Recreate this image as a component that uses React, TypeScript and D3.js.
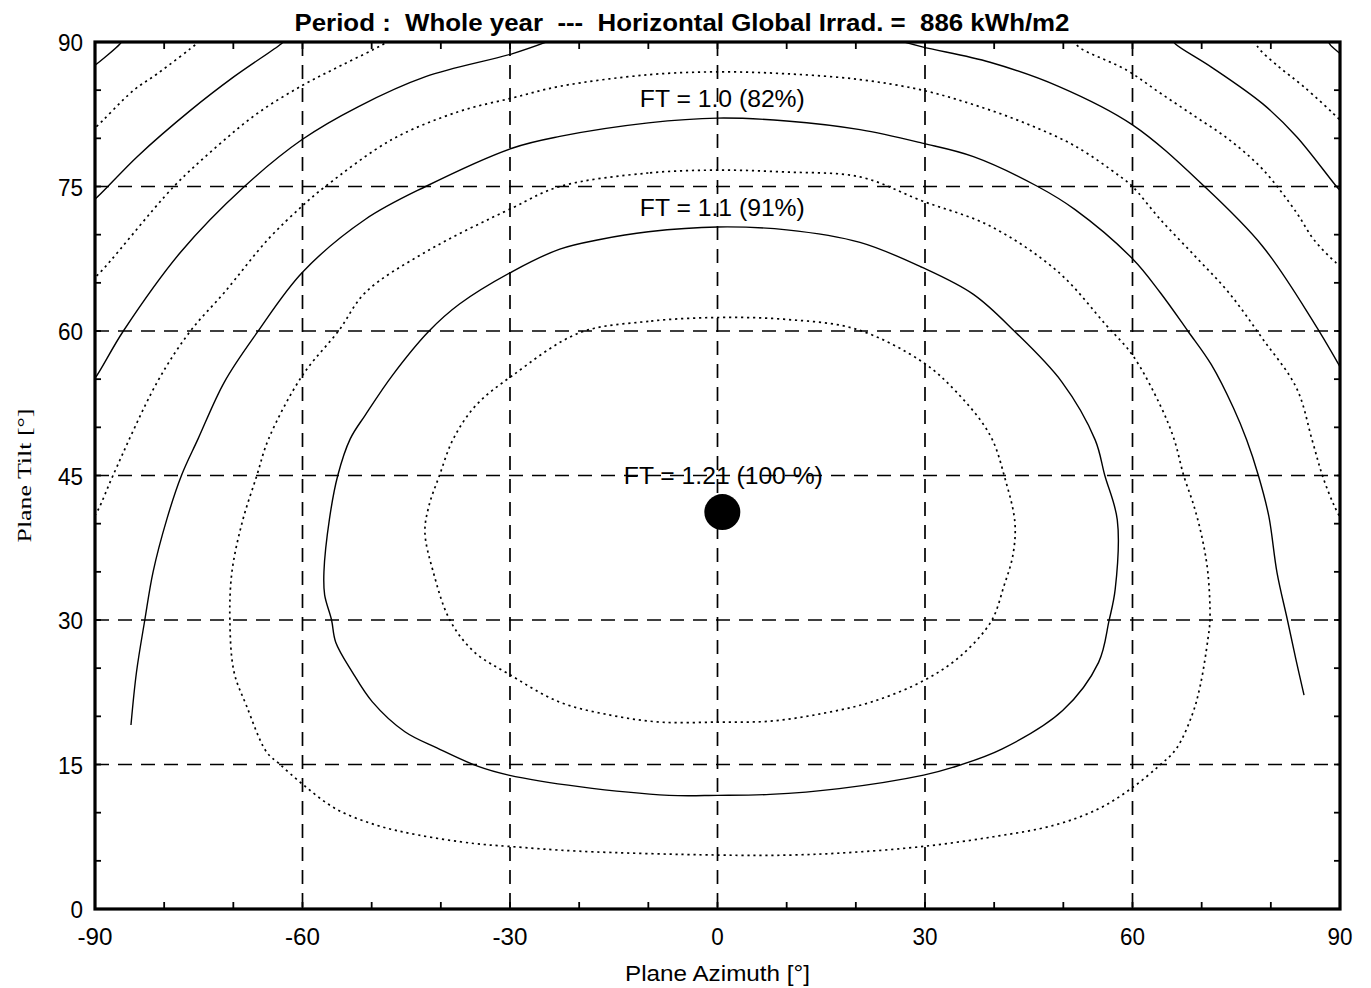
import React, { useEffect, useRef } from 'react';
import * as d3 from 'd3';

// axis ticks
const xTicks = [-90, -60, -30, 0, 30, 60, 90];
const yTicks = [0, 15, 30, 45, 60, 75, 90];
const xMinor = [-80, -70, -50, -40, -20, -10, 10, 20, 40, 50, 70, 80];
const yMinor = [5, 10, 20, 25, 35, 40, 50, 55, 65, 70, 80, 85];

const titleText = 'Period :  Whole year  ---  Horizontal Global Irrad. =  886 kWh/m2';
const xTitle = 'Plane Azimuth [°]';
const yTitle = 'Plane Tilt [°]';

// optimum orientation [azimuth, tilt]
const optimum = [0.7, 41.2];

// iso-transposition curves, [azimuth, tilt]
const c1 = [[0,61.4],[-10,61],[-20,59.8],[-29.6,55.4],[-34.9,52.3],[-38.2,48.8],[-40.2,45],[-41.7,41.9],[-42.3,39.1],[-41.1,35],[-38.7,30],[-35.2,26.7],[-30.2,24.4],[-22.9,21.5],[-15.3,20.1],[-8.2,19.4],[0,19.4],[7.6,19.5],[15.2,20.3],[22.3,21.5],[29.8,23.7],[35.2,26.3],[39.6,29.9],[41.4,33.5],[42.7,36.7],[43,40.1],[41.6,44.6],[39.4,49.2],[34.5,53.7],[29.6,56.8],[20,60.2],[10,61.2]];
const c2 = [[0,70.8],[-10,70.3],[-17,69.5],[-22.8,68.5],[-29.6,66.2],[-37.3,62.8],[-41.7,60],[-47,55.4],[-50.9,51.3],[-53.1,48.8],[-54.9,45],[-56.1,40.5],[-56.9,35],[-56.8,32.6],[-55.8,30],[-55.2,27.7],[-52.8,24.6],[-49.9,21.5],[-45.2,18.4],[-40.5,16.7],[-34.6,14.8],[-30.2,13.9],[-20,12.7],[-7,11.8],[0,11.8],[7.6,11.9],[17.6,12.5],[29.8,13.9],[34,14.7],[41.1,16.6],[49.9,20.6],[55.1,25.6],[56.6,29.9],[57.5,33.2],[57.8,40.4],[56,45],[54.6,48.7],[49.8,54.7],[42.9,60],[37,63.8],[29.6,66.6],[20.6,69.2],[10,70.5]];
const c3 = [[0,76.7],[-10,76.4],[-22.8,75],[-29.6,72.8],[-42.2,68.2],[-50.9,64],[-54.8,60],[-60,55.4],[-64.9,48.8],[-66.6,45],[-68.7,40.2],[-70.2,35],[-70.5,30],[-69.9,24.6],[-68.1,21.1],[-65.2,16.3],[-63.4,15.1],[-59.9,12.9],[-55.2,10.4],[-49.3,8.7],[-43.4,7.7],[-35.2,6.8],[-30.2,6.5],[-20,6],[0,5.6],[10.6,5.6],[19.9,5.9],[29.8,6.5],[39.9,7.5],[48.7,8.7],[55.1,10.4],[59.8,12.5],[63.9,14.9],[66.3,16.6],[68.6,20.1],[69.8,23.2],[70.9,28],[71.2,30],[70.9,34.9],[70.1,38.4],[68.9,41.8],[67.4,45],[66,48.8],[64,52.3],[60,57.5],[56.2,60.6],[49.3,66.1],[39.4,70.9],[29.6,73.5],[20.6,76],[10,76.5]];
const c4 = [[-84.8,19.1],[-84,24.6],[-82.8,30],[-81.6,35],[-79.6,40.5],[-77.5,45],[-75.1,48.8],[-71.3,54.7],[-66.5,59.9],[-60,66.1],[-50.9,71.6],[-42.2,75],[-29.6,79],[-22.8,80.2],[-10,81.6],[0,82.1],[10,81.8],[20.6,80.9],[29.6,79.5],[37,78.1],[46.3,75],[51.7,72.6],[60,67.5],[64,64],[68,60],[71.4,56.5],[74.6,52],[76.5,48.7],[78.2,45],[79.7,40.8],[80.9,34.9],[82.4,30],[83.6,26],[84.8,22.2]];
const c5 = [[-90.5,40.3],[-89.5,41.5],[-87.4,45],[-81,54.7],[-76.2,60],[-71.3,64],[-65,69.5],[-60,73],[-56.7,75],[-47,79.9],[-37.3,82.8],[-29.6,84.2],[-22.8,85.4],[-10,86.6],[0,86.9],[10,86.7],[20.6,86.1],[29.6,85],[37,83.5],[44.4,81.6],[51.7,79.2],[58.1,76.1],[60,75],[64,71.6],[69,67.8],[73.9,64],[78.8,59.2],[83.7,54.1],[86,48.6],[87.5,44.9],[89.2,41.8],[90.5,40]];
const c6a = [[-91,54.3],[-90,55.1],[-85.9,60],[-77.6,68.2],[-68.4,75],[-60,79.9],[-51.9,83.3],[-42.2,86.4],[-29.6,88.8],[-24,90.2]];
const c6b = [[26,90.2],[29.6,89.5],[39.4,87.9],[49.3,85.4],[60,81.4],[70.4,75],[78.8,68.8],[86.2,60.9],[90,56.3],[91,55]];
const c7a = [[-90.5,65.4],[-89.8,65.7],[-78.6,75],[-72.3,79.2],[-66.5,82.6],[-60,85.5],[-54.3,87.6],[-48.5,89.7],[-47.5,90.2]];
const c7b = [[51.5,90.2],[52.2,89.5],[59.1,87.1],[64,84.7],[69,82.3],[73.9,79.9],[78.8,76.8],[83.7,72.3],[86.2,69.5],[89.4,67.1],[90.5,66.5]];
const c8a = [[-90.5,73.5],[-90,73.7],[-83.9,78.1],[-76.2,82.9],[-69.9,86.4],[-63.1,89.8],[-62.5,90.2]];
const c8b = [[65.8,90.2],[66.2,89.8],[71.4,87.4],[78.8,83.6],[83.7,80.2],[89.5,75],[90.5,74.2]];
const c9a = [[-90.5,80.9],[-90,81.1],[-84.4,85],[-81,86.7],[-75.2,89.9],[-74.8,90.2]];
const c9b = [[77.8,90.2],[78.1,89.5],[81.2,87.4],[84.7,85.4],[90,81.9],[90.5,81.5]];
const c10a = [[-90.5,87.4],[-90,87.6],[-86.4,89.8],[-86,90.2]];
const c10b = [[88.2,90.2],[88.6,89.7],[90,88.8],[90.5,88.4]];

const contours = [
  { level: 1.15, dotted: true, closed: true, parts: [c1] },
  { level: 1.1, dotted: false, closed: true, parts: [c2] },
  { level: 1.05, dotted: true, closed: true, parts: [c3] },
  { level: 1.0, dotted: false, closed: false, parts: [c4] },
  { level: 0.95, dotted: true, closed: false, parts: [c5] },
  { level: 0.9, dotted: false, closed: false, parts: [c6a, c6b] },
  { level: 0.85, dotted: true, closed: false, parts: [c7a, c7b] },
  { level: 0.8, dotted: false, closed: false, parts: [c8a, c8b] },
  { level: 0.75, dotted: true, closed: false, parts: [c9a, c9b] },
  { level: 0.7, dotted: false, closed: false, parts: [c10a, c10b] },
];

const labelFT10 = 'FT = 1.0 (82%)';
const labelFT11 = 'FT = 1.1 (91%)';
const labelOpt = 'FT = 1.21 (100 %)';

const sans = 'Liberation Sans, Arial, Helvetica, sans-serif';

export default function App() {
  const ref = useRef(null);

  useEffect(() => {
    var width = 1371;
    var height = 988;
    var left = 95, right = 1340, top = 42, bottom = 909;

    var svg = d3.select(ref.current);
    svg.selectAll('*').remove();
    svg.attr('width', width).attr('height', height);

    var x = d3.scaleLinear().domain([-90, 90]).range([left, right]);
    var y = d3.scaleLinear().domain([0, 90]).range([bottom, top]);

    svg.append('defs').append('clipPath').attr('id', 'plotclip')
      .append('rect').attr('x', left).attr('y', top)
      .attr('width', right - left).attr('height', bottom - top);

    // dashed grid
    var grid = svg.append('g');
    grid.selectAll('.gx').data(xTicks.slice(1, -1)).enter().append('line')
      .attr('x1', d => x(d)).attr('x2', d => x(d))
      .attr('y1', top).attr('y2', bottom)
      .attr('stroke', '#000').attr('stroke-width', 1.7)
      .attr('stroke-dasharray', '14,9');
    grid.selectAll('.gy').data(yTicks.slice(1, -1)).enter().append('line')
      .attr('y1', d => y(d)).attr('y2', d => y(d))
      .attr('x1', left).attr('x2', right)
      .attr('stroke', '#000').attr('stroke-width', 1.7)
      .attr('stroke-dasharray', '14,9');

    // contour curves
    var plot = svg.append('g').attr('clip-path', 'url(#plotclip)');
    contours.forEach(c => {
      var line = d3.line()
        .x(d => x(d[0])).y(d => y(d[1]))
        .curve(c.closed ? d3.curveCatmullRomClosed.alpha(0.5) : d3.curveCatmullRom.alpha(0.5));
      c.parts.forEach(p => {
        plot.append('path')
          .attr('d', line(p))
          .attr('fill', 'none')
          .attr('stroke', '#000')
          .attr('stroke-width', c.dotted ? 1.7 : 1.4)
          .attr('stroke-dasharray', c.dotted ? '2.2,3.8' : null);
      });
    });

    // frame
    svg.append('rect')
      .attr('x', left).attr('y', top)
      .attr('width', right - left).attr('height', bottom - top)
      .attr('fill', 'none').attr('stroke', '#000').attr('stroke-width', 3.2);

    // inward ticks on all four sides
    var tk = svg.append('g').attr('stroke', '#000').attr('stroke-width', 1.8);
    var allX = xMinor.concat(xTicks.slice(1, -1));
    var allY = yMinor.concat(yTicks.slice(1, -1));
    allX.forEach(t => {
      tk.append('line').attr('x1', x(t)).attr('x2', x(t)).attr('y1', bottom).attr('y2', bottom - 7);
      tk.append('line').attr('x1', x(t)).attr('x2', x(t)).attr('y1', top).attr('y2', top + 7);
    });
    allY.forEach(t => {
      tk.append('line').attr('y1', y(t)).attr('y2', y(t)).attr('x1', left).attr('x2', left + 6);
      tk.append('line').attr('y1', y(t)).attr('y2', y(t)).attr('x1', right).attr('x2', right - 6);
    });

    var labW = t => String(Math.abs(t)).length * 12.5 + (t < 0 ? 10 : 0);

    // tick labels
    svg.append('g').selectAll('text').data(xTicks).enter().append('text')
      .attr('x', d => x(d)).attr('y', bottom + 36)
      .attr('text-anchor', 'middle')
      .attr('font-family', sans).attr('font-size', 23)
      .attr('textLength', d => labW(d)).attr('lengthAdjust', 'spacingAndGlyphs')
      .text(d => d);
    svg.append('g').selectAll('text').data(yTicks).enter().append('text')
      .attr('x', 83).attr('y', d => y(d) + 9)
      .attr('text-anchor', 'end')
      .attr('font-family', sans).attr('font-size', 23)
      .attr('textLength', d => labW(d)).attr('lengthAdjust', 'spacingAndGlyphs')
      .text(d => d);

    // titles
    svg.append('text')
      .attr('x', 682).attr('y', 31)
      .attr('text-anchor', 'middle')
      .style('white-space', 'pre')
      .attr('font-family', sans).attr('font-size', 24).attr('font-weight', 'bold')
      .attr('textLength', 775).attr('lengthAdjust', 'spacingAndGlyphs')
      .text(titleText);
    svg.append('text')
      .attr('x', x(0)).attr('y', 981)
      .attr('text-anchor', 'middle')
      .attr('font-family', sans).attr('font-size', 22)
      .attr('textLength', 185).attr('lengthAdjust', 'spacingAndGlyphs')
      .text(xTitle);
    svg.append('text')
      .attr('transform', 'translate(31,' + y(45) + ') rotate(-90)')
      .attr('text-anchor', 'middle')
      .attr('font-family', 'Liberation Serif, Times New Roman, serif').attr('font-size', 19)
      .attr('textLength', 134).attr('lengthAdjust', 'spacingAndGlyphs')
      .text(yTitle);

    // curve labels
    var peak = pts => d3.max(pts, d => d[1]);
    svg.append('text')
      .attr('x', x(optimum[0])).attr('y', y(peak(c4)) - 11)
      .attr('text-anchor', 'middle')
      .attr('font-family', sans).attr('font-size', 23)
      .attr('textLength', 165).attr('lengthAdjust', 'spacingAndGlyphs')
      .text(labelFT10);
    svg.append('text')
      .attr('x', x(optimum[0])).attr('y', y(peak(c2)) - 11)
      .attr('text-anchor', 'middle')
      .attr('font-family', sans).attr('font-size', 23)
      .attr('textLength', 165).attr('lengthAdjust', 'spacingAndGlyphs')
      .text(labelFT11);
    svg.append('text')
      .attr('x', x(optimum[0]) + 1).attr('y', y(optimum[1]) - 28)
      .attr('text-anchor', 'middle')
      .attr('font-family', sans).attr('font-size', 23)
      .attr('textLength', 199).attr('lengthAdjust', 'spacingAndGlyphs')
      .text(labelOpt);

    // optimum point
    svg.append('circle')
      .attr('cx', x(optimum[0])).attr('cy', y(optimum[1]))
      .attr('r', 18).attr('fill', '#000');
  }, []);

  return (
    <svg ref={ref} style={{ position: 'absolute', left: 0, top: 0, background: '#fff' }} />
  );
}
